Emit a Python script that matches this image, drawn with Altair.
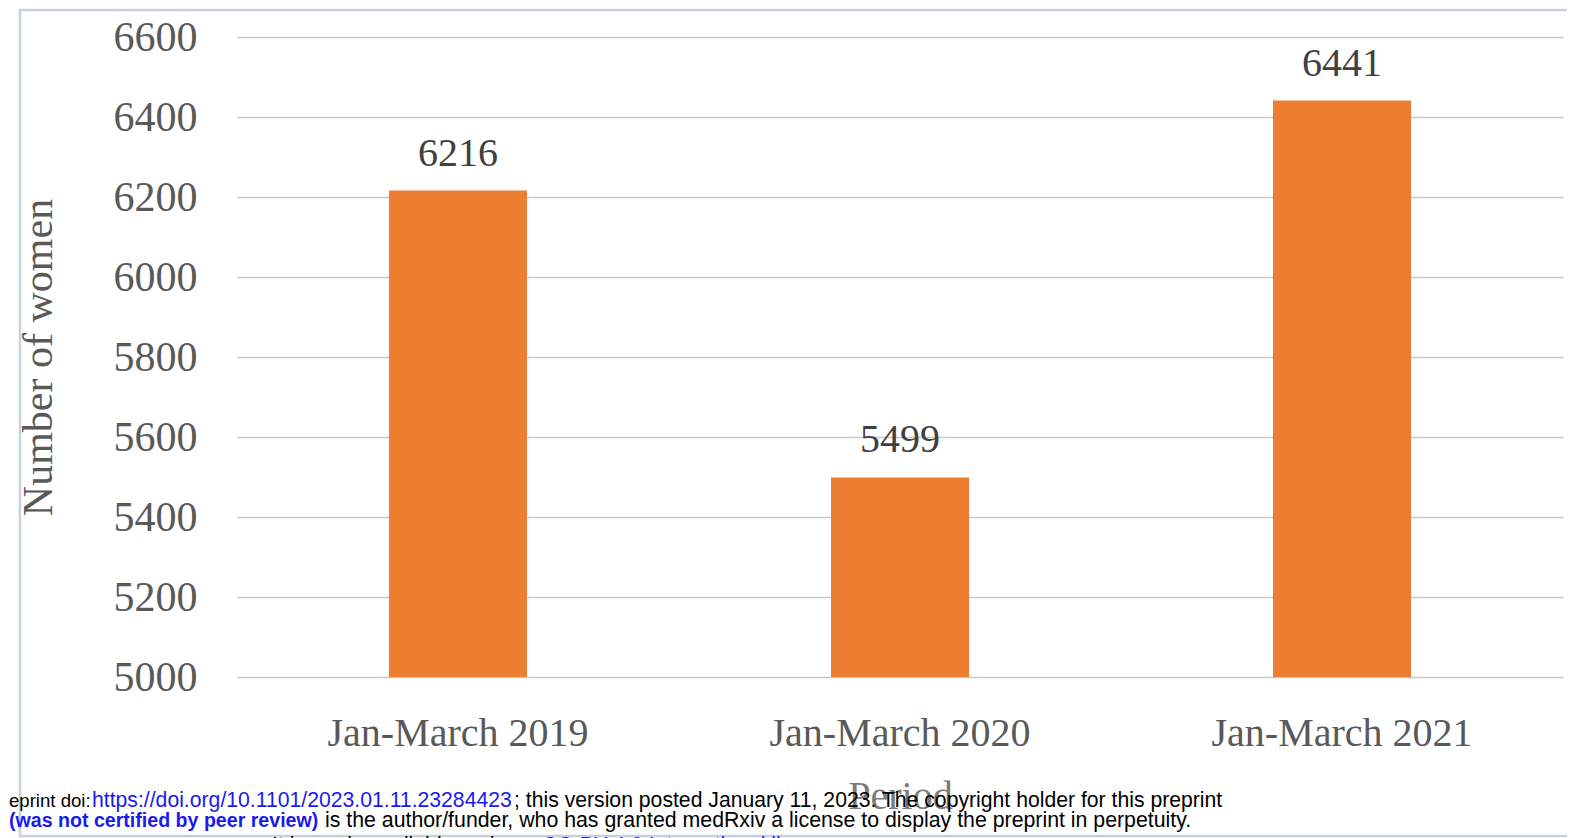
import altair as alt
import pandas as pd

periods = ["Jan-March 2019", "Jan-March 2020", "Jan-March 2021"]
women = [6216, 5499, 6441]
y_ticks = [5000, 5200, 5400, 5600, 5800, 6000, 6200, 6400, 6600]

SERIF = "Liberation Serif"
SANS = "Liberation Sans"
GREY = "#595959"
BLUE = "#1a1aee"
LEFT = 237
TOP = 37

df = pd.DataFrame({"Period": periods, "Number of women": women})
one = pd.DataFrame({"k": [0]})

x_enc = alt.X(
    "Period:N",
    sort=periods,
    scale=alt.Scale(paddingInner=0, paddingOuter=0),
    axis=alt.Axis(
        title="Period",
        labelAngle=0,
        labelFont=SERIF,
        labelFontSize=40,
        labelColor=GREY,
        labelPadding=36,
        labelLimit=0,
        ticks=False,
        domain=False,
        titleFont=SERIF,
        titleFontSize=40,
        titleFontWeight="normal",
        titleColor="#7a7a7a",
        titlePadding=23,
    ),
)
y_enc = alt.Y(
    "Number of women:Q",
    scale=alt.Scale(domain=[5000, 6600], zero=False),
    axis=alt.Axis(
        values=y_ticks,
        format="d",
        title="Number of women",
        labelFont=SERIF,
        labelFontSize=42,
        labelColor=GREY,
        labelPadding=40,
        ticks=False,
        domain=False,
        grid=True,
        gridColor="#c8c8c8",
        gridWidth=1.5,
        titleFont=SERIF,
        titleFontSize=42,
        titleFontWeight="normal",
        titleColor=GREY,
        titlePadding=53,
    ),
)

bars = alt.Chart(df).mark_bar(color="#ED7D31", size=138, clip=True).encode(x=x_enc, y=y_enc)
labels = alt.Chart(df).mark_text(
    dy=-25, baseline="alphabetic", fontSize=40, font=SERIF, color="#404040"
).encode(x=x_enc, y=y_enc, text=alt.Text("Number of women:Q", format="d"))

border = alt.Chart(one).mark_rect(
    fillOpacity=0, stroke="#c6d1de", strokeWidth=2.5
).encode(x=alt.value(20 - LEFT), x2=alt.value(1600 - LEFT), y=alt.value(10 - TOP), y2=alt.value(836 - TOP))


def note(txt, px, py, color="black", weight="normal", size=21.2):
    return alt.Chart(one).mark_text(
        align="left", baseline="alphabetic", font=SANS, fontSize=size,
        color=color, fontWeight=weight,
    ).encode(x=alt.value(px - LEFT), y=alt.value(py - TOP), text=alt.value(txt))


notes = [
    note("eprint doi:", 9, 807, size=18.6),
    note("https://doi.org/10.1101/2023.01.11.23284423", 92, 807, BLUE),
    note("; this version posted January 11, 2023. The copyright holder for this preprint", 514, 807),
    note("(was not certified by peer review)", 9, 827, BLUE, "bold", 19.6),
    note("is the author/funder, who has granted medRxiv a license to display the preprint in perpetuity.", 325, 827, size=21.3),
    note("It is made available under a", 272, 852),
    note("CC-BY 4.0 International license", 542, 852, BLUE),
    note(".", 868, 852),
]

chart = alt.layer(border, bars, labels, *notes).properties(
    width=1326,
    height=640,
    padding={"left": LEFT - 8, "top": TOP - 8, "right": 4, "bottom": 161},
    autosize="none",
    background="white",
).configure_view(strokeWidth=0)

chart.save("out.html", embed_options={"renderer": "svg", "actions": False})
